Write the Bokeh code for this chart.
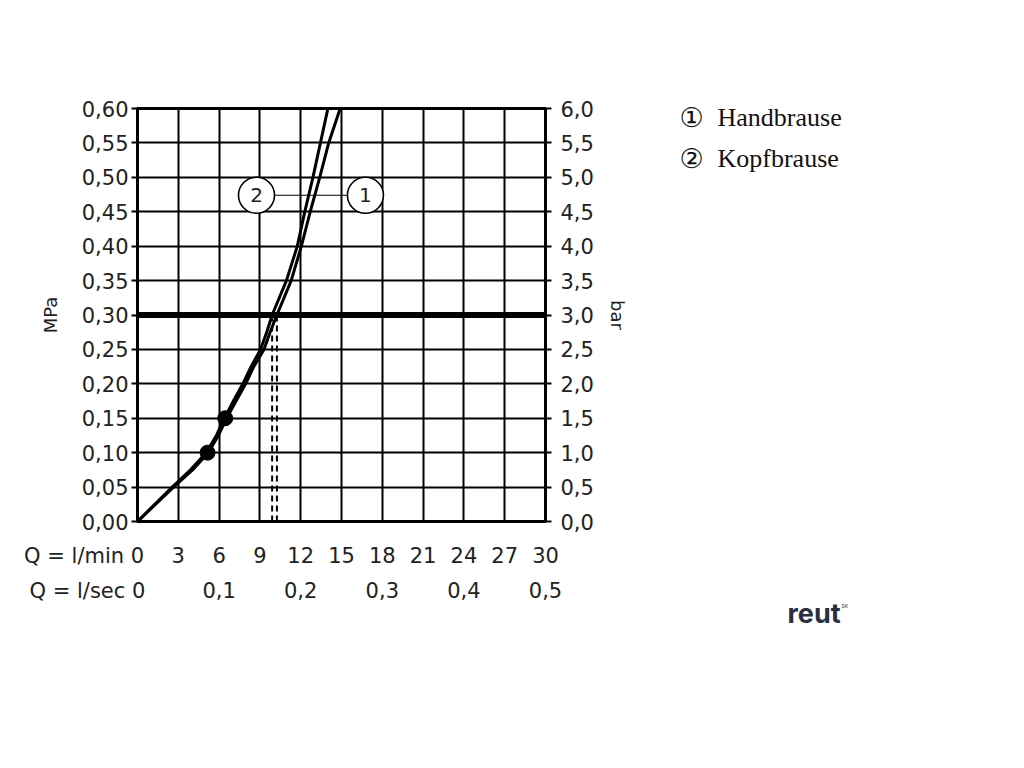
from bokeh.plotting import figure
from bokeh.layouts import row
from bokeh.models import Range1d, LinearAxis, FixedTicker, CustomJSTickFormatter, Span
from bokeh.core.properties import value
from bokeh.embed import file_html
from bokeh.resources import INLINE

# ---- data ----
pressure_mpa = [0.0, 0.05, 0.075, 0.10, 0.125, 0.15, 0.175, 0.20, 0.225, 0.25, 0.275, 0.30,
                0.35, 0.40, 0.45, 0.50, 0.55, 0.60]
flow_hand = [0.0, 2.65, 4.05, 5.2, 5.95, 6.55, 7.25, 7.95, 8.55, 9.3, 9.75, 10.25,
             11.3, 12.05, 12.7, 13.4, 14.06, 14.9]   # 1 Handbrause
flow_kopf = [0.0, 2.55, 3.9, 5.05, 5.8, 6.4, 7.05, 7.75, 8.35, 9.05, 9.5, 9.9,
             10.95, 11.75, 12.3, 12.9, 13.45, 14.0]   # 2 Kopfbrause
dot_flow = [5.15, 6.45]
dot_pressure = [0.10, 0.15]
ref_pressure = 0.30
ref_flow = [9.9, 10.25]
callout_labels = ["2", "1"]
callout_flow = [8.75, 16.76]
callout_pressure = [0.474, 0.474]

x_ticks = [0, 3, 6, 9, 12, 15, 18, 21, 24, 27, 30]
lsec_ticks = [0, 0.1, 0.2, 0.3, 0.4, 0.5]
y_ticks = [0, 0.05, 0.10, 0.15, 0.20, 0.25, 0.30, 0.35, 0.40, 0.45, 0.50, 0.55, 0.60]
bar_ticks = [0, 0.5, 1.0, 1.5, 2.0, 2.5, 3.0, 3.5, 4.0, 4.5, 5.0, 5.5, 6.0]
row_titles = ["Q = l/min", "Q = l/sec"]
legend_marks = ["\u2460", "\u2461"]
legend_labels = ["Handbrause", "Kopfbrause"]
logo_text = ["reut", "SK"]

FONT = "DejaVu Sans"
FS = "21px"
H = 108 + 413 + 180

p = figure(frame_width=408, frame_height=413, min_border_left=137, min_border_top=108,
           min_border_right=95, min_border_bottom=180,
           x_range=Range1d(0, 30), y_range=Range1d(0, 0.6),
           output_backend="svg", toolbar_location=None, x_axis_location=None,
           y_axis_location=None, background_fill_color="white", border_fill_color="white")
p.outline_line_color = "black"
p.outline_line_width = 3
p.frame_align = False

p.extra_y_ranges = {"bar": Range1d(0, 6)}
p.extra_x_ranges = {"lsec": Range1d(0, 0.5)}

def style_axis(ax):
    ax.axis_line_color = "black"
    ax.axis_line_width = 2
    ax.major_tick_line_color = "black"
    ax.major_tick_line_width = 2
    ax.minor_tick_line_color = None
    ax.major_tick_in = 0
    ax.major_label_text_font = FONT
    ax.major_label_text_font_size = FS
    ax.major_label_text_color = "#222222"
    ax.axis_label_text_font = FONT
    ax.axis_label_text_font_size = "18px"
    ax.axis_label_text_font_style = "normal"
    ax.axis_label_text_color = "#222222"

left = LinearAxis(ticker=FixedTicker(ticks=y_ticks), axis_label="MPa",
                  formatter=CustomJSTickFormatter(code="return tick.toFixed(2).replace('.', ',');"))
style_axis(left)
left.major_tick_out = 6
left.major_label_standoff = 3
left.axis_label_standoff = 18
p.add_layout(left, "left")

right = LinearAxis(y_range_name="bar", ticker=FixedTicker(ticks=bar_ticks), axis_label="bar",
                   formatter=CustomJSTickFormatter(code="return tick.toFixed(1).replace('.', ',');"))
style_axis(right)
right.major_tick_out = 6
right.major_label_standoff = 9
right.axis_label_standoff = 10
p.add_layout(right, "right")

# the row title sits left of the "0" label; padding of the same width keeps the 0 centred
PAD_MIN = "\u00a0" * 16
PAD_SEC = "\u00a0" * 15
bottom = LinearAxis(ticker=FixedTicker(ticks=x_ticks),
                    formatter=CustomJSTickFormatter(
                        args=dict(title=row_titles[0], pad=PAD_MIN),
                        code="return tick === 0 ? title + ' 0' + pad : String(tick);"))
style_axis(bottom)
bottom.axis_line_color = None
bottom.major_tick_out = 0
bottom.major_tick_line_color = None
bottom.major_label_standoff = 22
p.add_layout(bottom, "below")

bottom2 = LinearAxis(x_range_name="lsec", ticker=FixedTicker(ticks=lsec_ticks),
                     formatter=CustomJSTickFormatter(
                         args=dict(title=row_titles[1], pad=PAD_SEC),
                         code="return tick === 0 ? title + ' 0' + pad : tick.toFixed(1).replace('.', ',');"))
style_axis(bottom2)
bottom2.axis_line_color = None
bottom2.major_tick_out = 0
bottom2.major_tick_line_color = None
bottom2.major_label_standoff = 8
p.add_layout(bottom2, "below")

p.xgrid.ticker = FixedTicker(ticks=x_ticks)
p.ygrid.ticker = FixedTicker(ticks=y_ticks)
for g in (p.xgrid, p.ygrid):
    g.grid_line_color = "black"
    g.grid_line_width = 2
    g.grid_line_alpha = 1

# reference pressure line
p.add_layout(Span(location=ref_pressure, dimension="width", line_color="black", line_width=6))

# dashed verticals
for f in ref_flow:
    p.line([f, f], [0, ref_pressure], line_color="black", line_width=2, line_dash="6 4")

# curves
p.line(flow_hand, pressure_mpa, line_color="black", line_width=3)
p.line(flow_kopf, pressure_mpa, line_color="black", line_width=3)
p.scatter(dot_flow, dot_pressure, size=15, marker="circle", color="black")

# callouts
p.line(callout_flow, callout_pressure, line_color="black", line_width=1.2)
p.scatter(callout_flow, callout_pressure, size=36, marker="circle", fill_color="white",
          line_color="black", line_width=1.6)
p.text(callout_flow, callout_pressure, text=callout_labels, text_align="center",
       text_baseline="middle", text_font=value(FONT), text_font_size="20px", text_color="#222222")

# ---- side panel: legend and logo (pixel space, y downwards) ----
W2 = 290
q = figure(frame_width=W2, frame_height=H, min_border=0,
           x_range=Range1d(0, W2), y_range=Range1d(H, 0),
           output_backend="svg", toolbar_location=None, x_axis_location=None,
           y_axis_location=None, background_fill_color="white", border_fill_color="white")
q.outline_line_color = None
q.xgrid.visible = False
q.ygrid.visible = False
q.frame_align = False

q.text([39, 39], [117, 158], text=legend_marks, text_align="left", text_baseline="middle",
       text_font=value("DejaVu Sans"), text_font_size="27px", text_color="#111111")
q.text([77, 77], [117, 158], text=legend_labels, text_align="left", text_baseline="middle",
       text_font=value("Liberation Serif"), text_font_size="26px", text_color="#111111")
q.text([147], [613], text=[logo_text[0]], text_align="left", text_baseline="middle",
       text_font=value("Inter"), text_font_style="bold", text_font_size="27px",
       text_color="#2a3042")
q.text([201], [605], text=[logo_text[1]], text_align="left", text_baseline="middle",
       text_font=value("Inter"), text_font_size="5px", text_color="#2a3042")

layout = row(p, q)
open("out.html", "w").write(file_html(layout, INLINE))
